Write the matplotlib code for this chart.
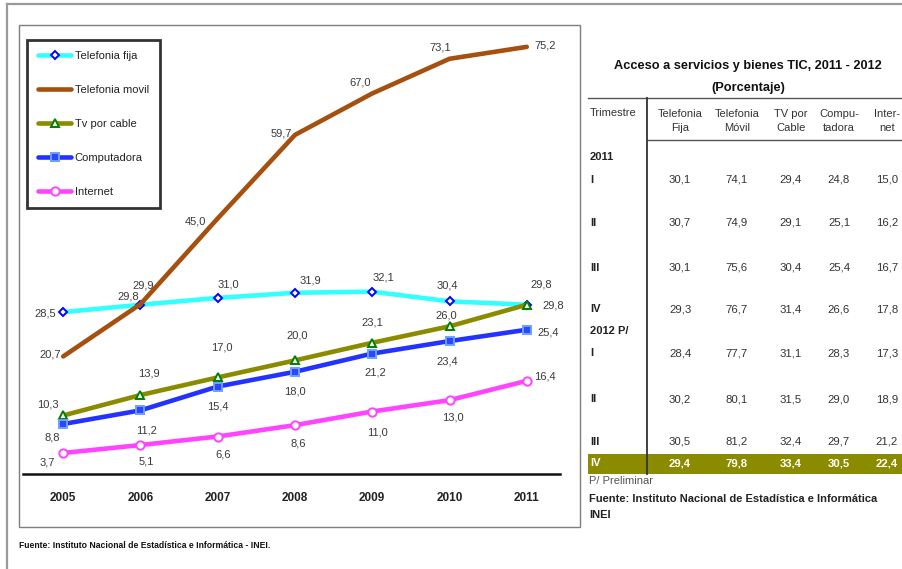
import matplotlib
matplotlib.use("Agg")
import matplotlib.pyplot as plt
from matplotlib.lines import Line2D
from matplotlib.patches import Rectangle

# ---------------- data ----------------
years = [2005, 2006, 2007, 2008, 2009, 2010, 2011]
series_names = ["Telefonia fija", "Telefonia movil", "Tv por cable", "Computadora", "Internet"]
fija = [28.5, 29.8, 31.0, 31.9, 32.1, 30.4, 29.8]
movil = [20.7, 29.9, 45.0, 59.7, 67.0, 73.1, 75.2]
cable = [10.3, 13.9, 17.0, 20.0, 23.1, 26.0, 29.8]
compu = [8.8, 11.2, 15.4, 18.0, 21.2, 23.4, 25.4]
internet = [3.7, 5.1, 6.6, 8.6, 11.0, 13.0, 16.4]

table_title = "Acceso a servicios y bienes TIC, 2011 - 2012"
table_subtitle = "(Porcentaje)"
table_headers = ["Telefonia\nFija", "Telefonia\nMóvil", "TV por\nCable", "Compu-\ntadora", "Inter-\nnet"]
table_groups = ["2011", "2012 P/"]
quarters = ["I", "II", "III", "IV"]
q_fija = [30.1, 30.7, 30.1, 29.3, 28.4, 30.2, 30.5, 29.4]
q_movil = [74.1, 74.9, 75.6, 76.7, 77.7, 80.1, 81.2, 79.8]
q_cable = [29.4, 29.1, 30.4, 31.4, 31.1, 31.5, 32.4, 33.4]
q_compu = [24.8, 25.1, 25.4, 26.6, 28.3, 29.0, 29.7, 30.5]
q_internet = [15.0, 16.2, 16.7, 17.8, 17.3, 18.9, 21.2, 22.4]

# ---------------- figure ----------------
W, H = 902, 569
fig = plt.figure(figsize=(W / 100, H / 100), dpi=100)
fig.patch.set_facecolor("white")

def fx(px):
    return px / W

def fy(py):
    return 1 - py / H

NARROW = ["Liberation Sans Narrow", "Liberation Sans", "DejaVu Sans"]
SANS = ["Liberation Sans", "DejaVu Sans"]

# outer frame lines
fig.add_artist(Line2D([fx(7), fx(902)], [fy(4), fy(4)], color="#9a9a9a", lw=1.6))
fig.add_artist(Line2D([fx(7), fx(7)], [fy(4), fy(569)], color="#9a9a9a", lw=1.6))
# inner chart box
fig.add_artist(Rectangle((fx(19), fy(527)), fx(580) - fx(19), fy(25) - fy(527),
                         fill=False, edgecolor="#7f7f7f", lw=1.0))

# ---------------- chart axes ----------------
y0_px, scale = 474, 5.68
ytop = 80
ax = fig.add_axes([fx(23), fy(y0_px), fx(560) - fx(23), ytop * scale / H])
ax.set_xlim(2004.48, 2011.43)
ax.set_ylim(0, ytop)
ax.patch.set_alpha(0)
for s in ["top", "left", "right"]:
    ax.spines[s].set_visible(False)
ax.spines["bottom"].set_linewidth(1.8)
ax.spines["bottom"].set_color("#111111")
ax.set_yticks([])
ax.set_xticks(years)
ax.set_xticklabels([str(y) for y in years], fontweight="bold", fontsize=8.5,
                   family=SANS, color="#222222")
ax.tick_params(axis="x", length=0, pad=13)

styles = [
    dict(color="#33FFFF", marker="D", ms=4.5, mfc="white", mec="#0000FF", mew=1.4),
    dict(color="#A5500F", marker=None),
    dict(color="#8B8B00", marker="^", ms=5.5, mfc="white", mec="#008000", mew=1.4),
    dict(color="#2233FF", marker="s", ms=6, mfc="#3344FF", mec="#66A3FF", mew=1.4),
    dict(color="#FF44FF", marker="o", ms=6, mfc="white", mec="#FF44FF", mew=1.4),
]
all_series = [fija, movil, cable, compu, internet]
for name, vals, st in zip(series_names, all_series, styles):
    ax.plot(years, vals, lw=3.3, label=name, solid_capstyle="round", zorder=3, **st)

# label offsets (pixels; +x right, +y down in reference)
offsets = [
    [(-18, 1), (-12, -8), (11, -13), (15, -12), (11, -14), (-2, -16), (14, -20)],
    [(-13, -2), (3, -19), (-22, 3), (-14, -1), (-12, -11), (-9, -11), (18, -1)],
    [(-15, -11), (8, -22), (4, -30), (2, -25), (0, -20), (-3, -11), (26, 1)],
    [(-11, 13), (6, 20), (0, 20), (0, 20), (3, 19), (-2, 20), (21, 3)],
    [(-16, 10), (6, 16), (5, 18), (3, 18), (5, 21), (3, 17), (18, -4)],
]
for vals, offs in zip(all_series, offsets):
    for x, v, (dx, dy) in zip(years, vals, offs):
        ax.annotate(f"{v:.1f}".replace(".", ","), (x, v), xytext=(dx, -dy),
                    textcoords="offset pixels", ha="center", va="center",
                    fontsize=8, family=NARROW, color="#3a3a3a", zorder=4)

leg = ax.legend(loc="upper left", bbox_to_anchor=(fx(27), fy(40)),
                bbox_transform=fig.transFigure, frameon=True, fancybox=False,
                prop={"family": NARROW, "size": 8}, handlelength=3.0,
                labelspacing=2.15, borderpad=1.0, handletextpad=0.3,
                borderaxespad=0)
leg.get_frame().set_edgecolor("black")
leg.get_frame().set_linewidth(2.0)
for t in leg.get_texts():
    t.set_color("#222222")

fig.text(fx(19), fy(545), "Fuente: Instituto Nacional de Estadística e Informática - INEI.",
         fontsize=6.2, fontweight="bold", family=NARROW, color="#111111",
         ha="left", va="center")

# ---------------- table ----------------
tc = "#333333"
fig.text(fx(748), fy(66), table_title, fontsize=9.2, fontweight="bold",
         family=SANS, color="#111111", ha="center", va="center")
fig.text(fx(748), fy(88), table_subtitle, fontsize=9.2, fontweight="bold",
         family=SANS, color="#111111", ha="center", va="center")

fig.add_artist(Line2D([fx(588), fx(902)], [fy(98), fy(98)], color="#555555", lw=1.0))
fig.add_artist(Line2D([fx(647), fx(902)], [fy(140), fy(140)], color="#555555", lw=1.0))

fig.text(fx(590), fy(113), "Trimestre", fontsize=8, family=SANS, color=tc,
         ha="left", va="center")
col_x = [680, 737, 791, 839, 887]
for cx, hdr in zip(col_x, table_headers):
    fig.text(fx(cx), fy(121), hdr, fontsize=8, family=SANS, color=tc,
             ha="center", va="center", linespacing=1.45, multialignment="center")

group_y = [157, 331]
row_y = [180, 223, 268, 309, 353, 399, 442, 463]
# highlight band for last row
fig.add_artist(Rectangle((fx(588), fy(474)), fx(902) - fx(588), fy(454) - fy(474),
                         facecolor="#8B8B00", edgecolor="none"))
fig.add_artist(Line2D([fx(647), fx(647)], [fy(98), fy(474)], color="#333333", lw=1.3))

for g, gy in zip(table_groups, group_y):
    fig.text(fx(590), fy(gy), g, fontsize=8, fontweight="bold", family=SANS,
             color="#222222", ha="left", va="center")

qcols = [q_fija, q_movil, q_cable, q_compu, q_internet]
n_rows = len(q_fija)
for i in range(n_rows):
    last = i == n_rows - 1
    col = "white" if last else tc
    fig.text(fx(590), fy(row_y[i]), quarters[i % 4], fontsize=8, fontweight="bold",
             family=SANS, color=("white" if last else "#222222"), ha="left", va="center")
    for cx, vals in zip(col_x, qcols):
        fig.text(fx(cx), fy(row_y[i]), f"{vals[i]:.1f}".replace(".", ","), fontsize=8.2,
                 fontweight=("bold" if last else "normal"), family=SANS, color=col,
                 ha="center", va="center")

fig.text(fx(589), fy(481), "P/ Preliminar", fontsize=8, family=SANS,
         color="#555555", ha="left", va="center")
fig.text(fx(589), fy(499), "Fuente: Instituto Nacional de Estadística e Informática",
         fontsize=8, fontweight="bold", family=SANS, color="#222222",
         ha="left", va="center")
fig.text(fx(589), fy(515), "INEI", fontsize=8, fontweight="bold", family=SANS,
         color="#222222", ha="left", va="center")

fig.savefig("out.png", dpi=100)
